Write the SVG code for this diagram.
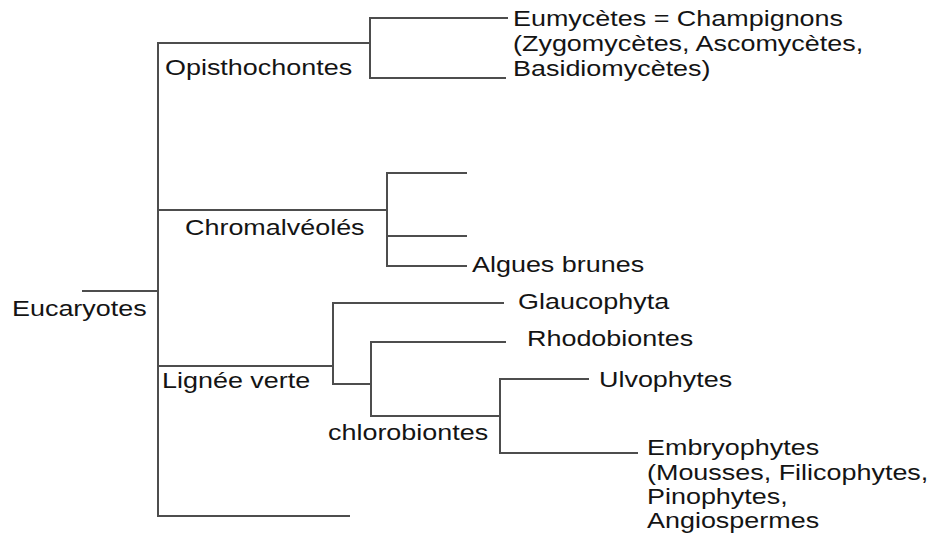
<svg xmlns="http://www.w3.org/2000/svg" width="933" height="539" viewBox="0 0 933 539">
  <style>
    .bg { fill: #ffffff; }
    .edge { stroke: #4d4d4d; stroke-width: 2; fill: none; stroke-linecap: square; }
    .lbl { font-family: "Liberation Sans", Arial, sans-serif; font-size: 22px; fill: #141414; }
  </style>
  <rect class="bg" x="0" y="0" width="933" height="539"/>

  <!-- tree branches -->
  <g id="connectors">
    <path class="edge" d="M83 291 H158"/>
    <path class="edge" d="M158 43 V516"/>
    <!-- Opisthochontes -->
    <path class="edge" d="M158 43 H368"/>
    <path class="edge" d="M370 18 V78"/>
    <path class="edge" d="M370 18 H507"/>
    <path class="edge" d="M370 78 H505"/>
    <!-- Chromalveoles -->
    <path class="edge" d="M158 210 H387"/>
    <path class="edge" d="M387 173 V266"/>
    <path class="edge" d="M387 173 H466"/>
    <path class="edge" d="M387 236 H466"/>
    <path class="edge" d="M387 266 H466"/>
    <!-- Lignee verte -->
    <path class="edge" d="M158 366 H332"/>
    <path class="edge" d="M333 303 V384"/>
    <path class="edge" d="M333 303 H503"/>
    <path class="edge" d="M333 384 H371"/>
    <path class="edge" d="M371 342 V416"/>
    <path class="edge" d="M371 342 H505"/>
    <path class="edge" d="M371 416 H500"/>
    <path class="edge" d="M500 379 V453"/>
    <path class="edge" d="M500 379 H588"/>
    <path class="edge" d="M500 453 H637"/>
    <!-- last branch -->
    <path class="edge" d="M158 516 H349"/>
  </g>

  <g id="eucaryotes">
    <text class="lbl" transform="translate(12 316) scale(1.225 1)">Eucaryotes</text>
  </g>
  <g id="opisthochontes">
    <text class="lbl" transform="translate(165 75) scale(1.225 1)">Opisthochontes</text>
  </g>
  <g id="eumycetes">
    <text class="lbl" transform="translate(513 26) scale(1.225 1)">
      <tspan x="0" y="0">Eumycètes = Champignons</tspan>
      <tspan x="0" y="25">(Zygomycètes, Ascomycètes,</tspan>
      <tspan x="0" y="50">Basidiomycètes)</tspan>
    </text>
  </g>
  <g id="chromalveoles">
    <text class="lbl" transform="translate(185 235) scale(1.225 1)">Chromalvéolés</text>
  </g>
  <g id="algues-brunes">
    <text class="lbl" transform="translate(472 272) scale(1.225 1)">Algues brunes</text>
  </g>
  <g id="glaucophyta">
    <text class="lbl" transform="translate(518 309) scale(1.225 1)">Glaucophyta</text>
  </g>
  <g id="rhodobiontes">
    <text class="lbl" transform="translate(527 346) scale(1.225 1)">Rhodobiontes</text>
  </g>
  <g id="lignee-verte">
    <text class="lbl" transform="translate(162 388) scale(1.225 1)">Lignée verte</text>
  </g>
  <g id="ulvophytes">
    <text class="lbl" transform="translate(599 387) scale(1.225 1)">Ulvophytes</text>
  </g>
  <g id="chlorobiontes">
    <text class="lbl" transform="translate(328 440) scale(1.225 1)">chlorobiontes</text>
  </g>
  <g id="embryophytes">
    <text class="lbl" transform="translate(647 455) scale(1.225 1)">
      <tspan x="0" y="0">Embryophytes</tspan>
      <tspan x="0" y="25">(Mousses, Filicophytes,</tspan>
      <tspan x="0" y="49">Pinophytes,</tspan>
      <tspan x="0" y="73">Angiospermes</tspan>
    </text>
  </g>
</svg>
